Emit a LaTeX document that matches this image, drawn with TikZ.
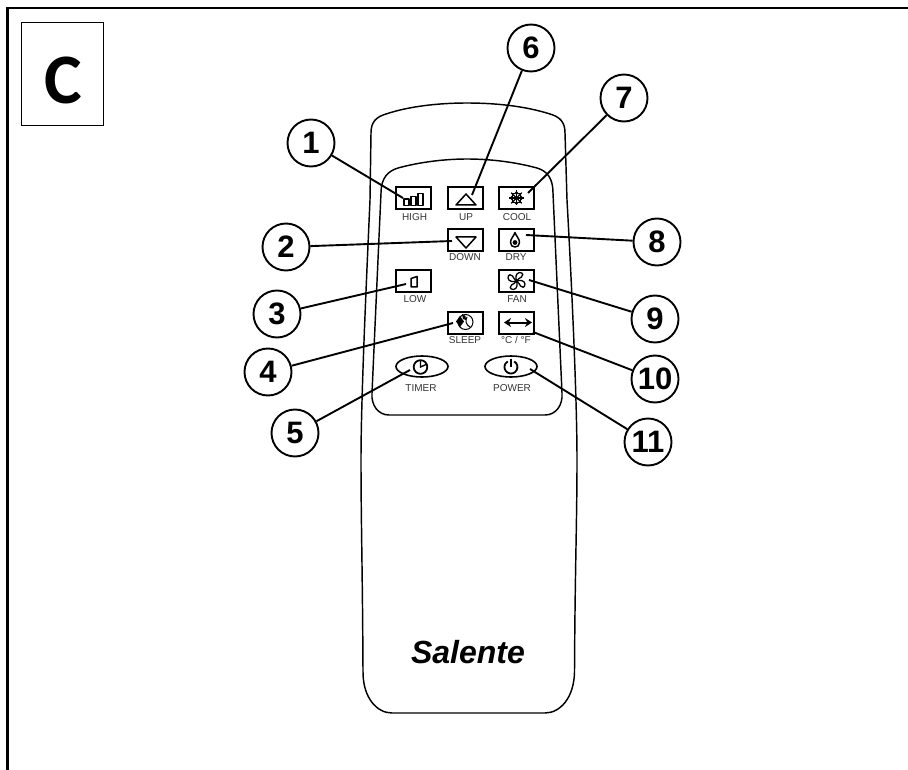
\documentclass[tikz,border=0pt]{standalone}
\usepackage{fontspec}
\setmainfont{Liberation Sans}
\newfontfamily\carlitofont{Carlito}
\usetikzlibrary{shapes.geometric,arrows.meta}
\definecolor{lab}{HTML}{333333}
\tikzset{
  frameline/.style={line width=2.4pt,line cap=rect},
  outline/.style={line width=1.45pt,line join=round},
  callout/.style={circle,draw,line width=1.9pt,minimum size=47pt,inner sep=0pt,font=\fontsize{31}{31}\selectfont\bfseries,fill=white},
  leader/.style={line width=1.9pt},
  keybox/.style={rectangle,draw,line width=1.7pt,minimum width=35pt,minimum height=22pt,inner sep=0pt},
  keyoval/.style={ellipse,draw,line width=1.6pt,minimum width=52pt,minimum height=21pt,inner sep=0pt},
  keylabel/.style={font=\fontsize{10}{10}\selectfont,text=lab,inner sep=0pt},
  icon/.style={line width=1.5pt,line join=round},
}
\begin{document}
\begin{tikzpicture}[x=1pt,y=-1pt]
\useasboundingbox (0,0) rectangle (908,770);
% frame
\coordinate (fa) at (908,8);
\coordinate (fb) at (7.5,8);
\coordinate (fc) at (7.5,770);
\draw[frameline] (fa) -- (fb) -- (fc);
\node[draw,line width=1.5pt,minimum width=82pt,minimum height=103pt,inner sep=0pt] (lbox) at (62.5,74) {};
\node[inner sep=0pt,font=\carlitofont\fontsize{71}{71}\selectfont\bfseries] (letter) at (63,80) {C};
% body
\draw[outline] (371,133) .. controls (371,122) and (376,117) .. (386,114)
  .. controls (410,106) and (440,103) .. (467,103)
  .. controls (495,103) and (525,106) .. (550,114)
  .. controls (560,117) and (565,122) .. (565,133)
  -- (567,200) .. controls (572,290) and (577,400) .. (577,460)
  .. controls (577,520) and (575,570) .. (574.5,672)
  .. controls (574,698) and (560,713) .. (545,713)
  -- (392,713)
  .. controls (377,713) and (363,698) .. (363,672)
  .. controls (362.5,570) and (361,520) .. (361,460)
  .. controls (361,400) and (366,290) .. (370,200) -- cycle;
\draw[outline] (381,193) .. controls (381,178) and (388,171) .. (398,168)
  .. controls (420,162) and (445,159) .. (467,159)
  .. controls (490,159) and (515,162) .. (537,168)
  .. controls (547,171) and (553,178) .. (553,193)
  -- (562,393) .. controls (563,405) and (556,415) .. (545,415)
  -- (389,415) .. controls (378,415) and (371,405) .. (372,393) -- cycle;
% keys
\node[keybox] (khigh) at (413.5,198) {};
\node[keybox] (kup) at (465.5,198) {};
\node[keybox] (kcool) at (516.5,198) {};
\node[keybox] (kdown) at (465.5,240) {};
\node[keybox] (kdry) at (516.5,240) {};
\node[keybox] (klow) at (413.5,281) {};
\node[keybox] (kfan) at (516.5,281) {};
\node[keybox] (ksleep) at (465.5,323) {};
\node[keybox] (kcf) at (516.5,323) {};
\node[keyoval] (ktimer) at (422,366.5) {};
\node[keyoval] (kpower) at (511,366.5) {};
% labels
\node[keylabel] (lhigh) at (414.5,217) {HIGH};
\node[keylabel] (lup) at (466,217) {UP};
\node[keylabel] (lcool) at (517,217) {COOL};
\node[keylabel] (ldown) at (465,257.5) {DOWN};
\node[keylabel] (ldry) at (516,257.5) {DRY};
\node[keylabel] (llow) at (415,299) {LOW};
\node[keylabel] (lfan) at (517,299) {FAN};
\node[keylabel] (lsleep) at (465,340) {SLEEP};
\node[keylabel] (lcf) at (516,340) {°C / °F};
\node[keylabel] (ltimer) at (421,388) {TIMER};
\node[keylabel] (lpower) at (512,388) {POWER};
% icons
\draw[icon] (404,199) rectangle (409,205.5);
\draw[icon] (411,196.5) rectangle (416,205.5);
\draw[icon] (418,193.5) rectangle (423,205.5);
\draw[icon] (456,205) -- (476,205) -- (466,194) -- cycle;
\draw[icon] (456,237) -- (476,237) -- (466,248) -- cycle;
\draw[icon] (411,278.5) -- (417,276.5) -- (417,287) -- (411,287) -- cycle;
% snowflake
\begin{scope}[shift={(516.5,198)}]
\foreach \a in {0,45,...,315}{
  \draw[line width=1.2pt,rotate=\a] (0,0) -- (7.5,0);
  \draw[line width=1.1pt,rotate=\a] (4,-2) -- (6,0) -- (4,2);
}
\end{scope}
% drop
\draw[icon] (515,232.5) .. controls (514,236) and (510.5,238.5) .. (510.5,242.5)
  .. controls (510.5,245.5) and (512.5,247) .. (515,247)
  .. controls (517.5,247) and (519.5,245.5) .. (519.5,242.5)
  .. controls (519.5,238.5) and (516,236) .. (515,232.5) -- cycle;
\fill (515,242.5) circle (2.4pt);
% fan
\begin{scope}[shift={(516.5,281)}]
\foreach \a in {0,90,180,270}{
  \draw[line width=1.3pt,rotate=\a,fill=white] (0,0) .. controls (-1,-3) and (-1,-8) .. (3,-8.5)
    .. controls (7,-8.5) and (7,-5) .. (5,-4) .. controls (3,-3) and (1.5,-2) .. (0,0) -- cycle;
}
\end{scope}
% sleep
\draw[line width=1pt] (465.5,322) circle (7.5pt);
\fill (456,321.5) -- (460,316) -- (464,321.5) -- (460,327) -- cycle;
\fill (462,314) -- (465.5,316) -- (466,320) -- (463,319) -- cycle;
\draw[line width=1pt] (467,317) .. controls (465,321) and (466,325) .. (470,327);
% degrees arrow
\draw[{Stealth[length=7pt,width=9pt]}-{Stealth[length=7pt,width=9pt]},line width=2pt] (504,322.5) -- (532,322.5);
% timer
\draw[line width=1.8pt] (420.5,367) circle (6.8pt);
\draw[line width=1.4pt] (420.5,361) -- (420.5,367) -- (426,364.5);
% power
\draw[line width=1.8pt] (514.2,361.4) arc[start angle=60,end angle=-240,radius=6.5pt];
\draw[line width=1.8pt] (511,358.5) -- (511,367);
% callouts
\coordinate (t1) at (403,198);
\coordinate (t2) at (452,241);
\coordinate (t3) at (406,284);
\coordinate (t4) at (453,323);
\coordinate (t5) at (410,370);
\coordinate (t6) at (472,195);
\coordinate (t7) at (528,193);
\coordinate (t8) at (526,235);
\coordinate (t9) at (529,280);
\coordinate (t10) at (533,332);
\coordinate (t11) at (530,369);
\node[callout] (n1) at (311,143) {1};
\node[callout] (n2) at (286,247) {2};
\node[callout] (n3) at (277,314) {3};
\node[callout] (n4) at (268,372) {4};
\node[callout] (n5) at (295,433) {5};
\node[callout] (n6) at (531,48) {6};
\node[callout] (n7) at (624,98) {7};
\node[callout] (n8) at (657,242) {8};
\node[callout] (n9) at (655,319) {9};
\node[callout] (n10) at (655,379) {10};
\node[callout] (n11) at (648,442) {11};
\foreach \i in {1,...,11}{\draw[leader] (n\i) -- (t\i);}
% brand
\node[inner sep=0pt,font=\fontsize{32}{32}\selectfont\bfseries\itshape] (brand) at (468,652) {Salente};
\end{tikzpicture}
\end{document}
